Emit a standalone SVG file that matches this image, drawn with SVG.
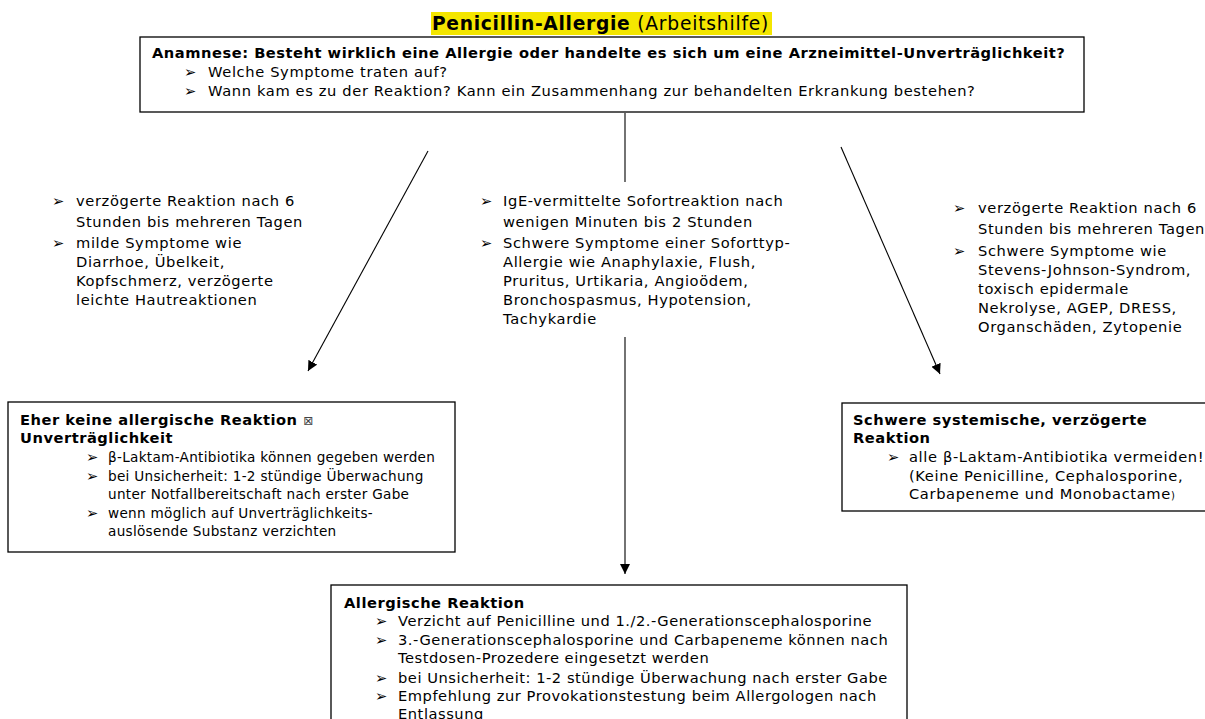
<svg xmlns="http://www.w3.org/2000/svg" width="1205" height="719" viewBox="0 0 1205 719">
<defs>
<style>
text{font-family:"DejaVu Sans","Liberation Sans",sans-serif;font-size:14.67px;letter-spacing:0.63px;fill:#000}
.b{font-weight:bold;letter-spacing:0.52px}
.sm{font-size:13.6px;letter-spacing:0.3px}
.bt{letter-spacing:0.53px}
.box{fill:#fff;stroke:#000;stroke-width:1.3}
.con{stroke:#000;stroke-width:1.1;fill:none}
.ttl{font-size:18.67px;letter-spacing:0.8px}
</style>
<marker id="ah" viewBox="0 0 10 10" refX="10" refY="5" markerWidth="10" markerHeight="10" markerUnits="userSpaceOnUse" orient="auto">
<path d="M0,0 L10,5 L0,10 z" fill="#000"/>
</marker>
</defs>
<rect width="1205" height="719" fill="#fff"/>

<g id="title">
<rect x="431" y="12" width="341" height="23" fill="#f4e600"/>
<text x="432" y="30" class="ttl"><tspan class="b" style="letter-spacing:0.7px">Penicillin-Allergie</tspan> (Arbeitshilfe)</text>
</g>

<g id="connectors">
<line class="con" x1="428" y1="151" x2="308" y2="371" marker-end="url(#ah)"/>
<line class="con" x1="625" y1="113" x2="625" y2="182"/>
<line class="con" x1="625" y1="337" x2="625" y2="574" marker-end="url(#ah)"/>
<line class="con" x1="841" y1="147" x2="940" y2="374" marker-end="url(#ah)"/>
</g>

<g id="anamnese">
<rect class="box" x="140" y="37" width="944" height="75"/>
<text x="152" y="58" class="b">Anamnese: Besteht wirklich eine Allergie oder handelte es sich um eine Arzneimittel-Unverträglichkeit?</text>
<text x="184" y="77">➢</text><text x="208" y="77">Welche Symptome traten auf?</text>
<text x="184" y="96">➢</text><text x="208" y="96">Wann kam es zu der Reaktion? Kann ein Zusammenhang zur behandelten Erkrankung bestehen?</text>
</g>

<g id="info-left">
<text x="52" y="206">➢</text><text x="76" y="206">verzögerte Reaktion nach 6</text>
<text x="76" y="227">Stunden bis mehreren Tagen</text>
<text x="52" y="248">➢</text><text x="76" y="248">milde Symptome wie</text>
<text x="76" y="267">Diarrhoe, Übelkeit,</text>
<text x="76" y="286">Kopfschmerz, verzögerte</text>
<text x="76" y="305">leichte Hautreaktionen</text>
</g>

<g id="info-center">
<text x="480" y="206">➢</text><text x="503" y="206">IgE-vermittelte Sofortreaktion nach</text>
<text x="503" y="227">wenigen Minuten bis 2 Stunden</text>
<text x="480" y="248">➢</text><text x="503" y="248">Schwere Symptome einer Soforttyp-</text>
<text x="503" y="267">Allergie wie Anaphylaxie, Flush,</text>
<text x="503" y="286">Pruritus, Urtikaria, Angioödem,</text>
<text x="503" y="305">Bronchospasmus, Hypotension,</text>
<text x="503" y="324">Tachykardie</text>
</g>

<g id="info-right">
<text x="953" y="213">➢</text><text x="978" y="213">verzögerte Reaktion nach 6</text>
<text x="978" y="234">Stunden bis mehreren Tagen</text>
<text x="953" y="256">➢</text><text x="978" y="256">Schwere Symptome wie</text>
<text x="978" y="275">Stevens-Johnson-Syndrom,</text>
<text x="978" y="294">toxisch epidermale</text>
<text x="978" y="313">Nekrolyse, AGEP, DRESS,</text>
<text x="978" y="332">Organschäden, Zytopenie</text>
</g>

<g id="keine-allergie">
<rect class="box" x="8" y="402" width="447" height="150"/>
<text x="20" y="425" class="b">Eher keine allergische Reaktion <tspan font-weight="normal" font-size="12" fill="#444">⊠</tspan></text>
<text x="20" y="443" class="b">Unverträglichkeit</text>
<text x="86" y="462">➢</text><text x="108" y="462" class="sm">β-Laktam-Antibiotika können gegeben werden</text>
<text x="86" y="481">➢</text><text x="108" y="481" class="sm">bei Unsicherheit: 1-2 stündige Überwachung</text>
<text x="108" y="499" class="sm">unter Notfallbereitschaft nach erster Gabe</text>
<text x="86" y="518">➢</text><text x="108" y="518" class="sm">wenn möglich auf Unverträglichkeits-</text>
<text x="108" y="536" class="sm">auslösende Substanz verzichten</text>
</g>

<g id="schwer-verzoegert">
<rect class="box" x="842" y="403" width="400" height="108"/>
<text x="853" y="425" class="b">Schwere systemische, verzögerte</text>
<text x="853" y="443" class="b">Reaktion</text>
<text x="887" y="462">➢</text><text x="909" y="462">alle β-Laktam-Antibiotika vermeiden!</text>
<text x="909" y="481">(Keine Penicilline, Cephalosporine,</text>
<text x="909" y="499">Carbapeneme und Monobactame<tspan font-size="10">)</tspan></text>
</g>

<g id="allergische-reaktion">
<rect class="box" x="331" y="585" width="576" height="200"/>
<text x="344" y="608" class="b">Allergische Reaktion</text>
<text x="375" y="626">➢</text><text x="398" y="626" class="bt">Verzicht auf Penicilline und 1./2.-Generationscephalosporine</text>
<text x="375" y="645">➢</text><text x="398" y="645" class="bt">3.-Generationscephalosporine und Carbapeneme können nach</text>
<text x="398" y="663" class="bt">Testdosen-Prozedere eingesetzt werden</text>
<text x="375" y="683">➢</text><text x="398" y="683" class="bt">bei Unsicherheit: 1-2 stündige Überwachung nach erster Gabe</text>
<text x="375" y="701">➢</text><text x="398" y="701" class="bt">Empfehlung zur Provokationstestung beim Allergologen nach</text>
<text x="398" y="719" class="bt">Entlassung</text>
</g>
</svg>
